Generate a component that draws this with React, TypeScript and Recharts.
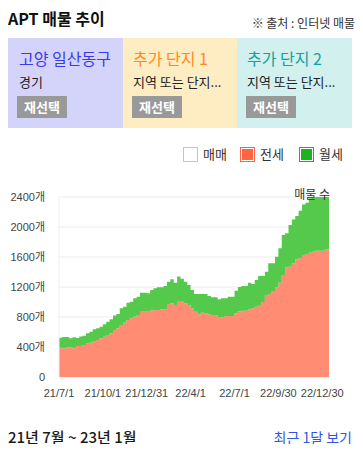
import React from "react";
import { AreaChart, Area, XAxis, YAxis, CartesianGrid } from "recharts";

const FONT = '"Noto Sans CJK KR", "Noto Sans", sans-serif';
const TICK_FONT = '"Liberation Sans", "Noto Sans CJK KR", sans-serif';

const weeks: number[] = Array.from({ length: 81 }, (_, i) => i);

const jeonse: number[] = [
  391, 380, 396, 396, 385, 413, 413, 427, 449, 458,
  480, 495, 516, 538, 560, 582, 627, 649, 693, 724,
  760, 782, 804, 827, 871, 880, 871, 888, 893, 893,
  902, 902, 973, 982, 960, 1004, 1004, 982, 960, 916,
  871, 836, 858, 849, 836, 827, 827, 791, 796, 813,
  813, 813, 849, 875, 884, 884, 902, 916, 938, 960,
  1000, 1093, 1107, 1138, 1196, 1258, 1360, 1462, 1471, 1516,
  1569, 1582, 1627, 1640, 1658, 1671, 1684, 1684, 1684, 1702,
  1729,
];

const wolse: number[] = [
  133, 153, 137, 120, 145, 107, 127, 124, 133, 146,
  156, 155, 155, 164, 178, 187, 193, 191, 223, 214,
  231, 222, 245, 244, 253, 244, 245, 272, 289, 303,
  294, 311, 298, 320, 298, 336, 306, 289, 267, 244,
  236, 271, 249, 258, 244, 235, 235, 245, 253, 236,
  258, 258, 302, 325, 329, 329, 356, 324, 355, 387,
  347, 311, 409, 378, 408, 458, 533, 454, 556, 584,
  578, 636, 673, 684, 724, 724, 716, 716, 716, 698,
  671,
];

const tickWeeks: number[] = [0, 13, 26, 39, 52, 65, 78];
const tickLabels: string[] = ["21/7/1", "21/10/1", "21/12/31", "22/4/1", "22/7/1", "22/9/30", "22/12/30"];
const yTicks: number[] = [0, 400, 800, 1200, 1600, 2000, 2400];

const data = weeks.map((w, i) => ({ week: w, 전세: jeonse[i], 월세: wolse[i] }));

const boxes = [
  { title: "고양 일산동구", sub: "경기", bg: "#D4D4FA", color: "#3A3AEA", left: 0, width: 115, pad: 11 },
  { title: "추가 단지 1", sub: "지역 또는 단지...", bg: "#FEEDC3", color: "#FF8A1E", left: 115, width: 114, pad: 10 },
  { title: "추가 단지 2", sub: "지역 또는 단지...", bg: "#D1F0EE", color: "#14A0A0", left: 229, width: 115, pad: 10 },
];

const legendItems = [
  { name: "매매", fill: "#FFFFFF", border: "#C2C6CE", left: 175 },
  { name: "전세", fill: "#FF6543", border: "#FF6543", left: 232 },
  { name: "월세", fill: "#1DB31D", border: "#1DB31D", left: 291 },
];

export default function App() {
  return (
    <div style={{ position: "relative", width: 347, height: 436, fontFamily: FONT, color: "#222" }}>
      <div style={{ position: "absolute", left: 0, top: 0, fontSize: 16, lineHeight: "20px", fontWeight: 700, color: "#111" }}>
        APT 매물 추이
      </div>
      <div style={{ position: "absolute", right: 0, top: 6, fontSize: 12, lineHeight: "17px", color: "#333", whiteSpace: "nowrap" }}>
        ※ 출처 : 인터넷 매물
      </div>

      {boxes.map((b) => (
        <div key={b.title} style={{ position: "absolute", left: b.left, top: 30, width: b.width, height: 90, background: b.bg }}>
          <div style={{ position: "absolute", left: b.pad, top: 10, fontSize: 16, lineHeight: "20px", color: b.color, whiteSpace: "nowrap" }}>
            {b.title}
          </div>
          <div style={{ position: "absolute", left: b.pad, top: 35, fontSize: 13, lineHeight: "18px", color: "#222", whiteSpace: "nowrap" }}>
            {b.sub}
          </div>
          <div style={{ position: "absolute", left: 9, top: 58, width: 50, height: 22, background: "#999", color: "#fff", fontSize: 13, fontWeight: 700, lineHeight: "22px", textAlign: "center" }}>
            재선택
          </div>
        </div>
      ))}

      {legendItems.map((l) => (
        <div key={l.name} style={{ position: "absolute", left: l.left, top: 139, height: 15 }}>
          <div style={{ position: "absolute", left: 0, top: 0, width: 11, height: 11, border: `1px solid ${l.border}`, padding: 1, background: l.fill, backgroundClip: "content-box", boxShadow: "inset 0 0 0 1px #fff" }} />
          <div style={{ position: "absolute", left: 20, top: -2, fontSize: 13, lineHeight: "18px", color: "#333", whiteSpace: "nowrap" }}>{l.name}</div>
        </div>
      ))}

      <div style={{ position: "absolute", left: -8, top: 172 }}>
        <AreaChart width={363} height={230} data={data} margin={{ top: 17, right: 34, left: 0, bottom: 3 }}>
          <CartesianGrid vertical={false} stroke="#ECECEC" />
          <XAxis
            dataKey="week"
            type="number"
            domain={[0, 80]}
            ticks={tickWeeks}
            tickFormatter={(v: number) => tickLabels[tickWeeks.indexOf(v)] ?? ""}
            axisLine={false}
            tickLine={false}
            tickSize={0}
            tickMargin={12}
            height={30}
            interval={0}
            tick={{ fontSize: 11, fill: "#444", fontFamily: TICK_FONT }}
          />
          <YAxis
            type="number"
            domain={[0, 2400]}
            ticks={yTicks}
            tickFormatter={(v: number) => (v === 0 ? "0" : `${v}개`)}
            axisLine={{ stroke: "#EEEEEE" }}
            tickLine={false}
            tickSize={0}
            tickMargin={14}
            width={59}
            interval={0}
            tick={{ fontSize: 11, fill: "#444", fontFamily: TICK_FONT }}
          />
          <Area type="stepAfter" dataKey="전세" stackId="1" stroke="none" fill="#FF8C73" fillOpacity={1} isAnimationActive={false} />
          <Area type="stepAfter" dataKey="월세" stackId="1" stroke="none" fill="#55C94C" fillOpacity={1} isAnimationActive={false} />
        </AreaChart>
      </div>

      <div style={{ position: "absolute", right: 25, top: 178, fontSize: 12, lineHeight: "16px", color: "#333", whiteSpace: "nowrap", zIndex: 2 }}>
        매물 수
      </div>

      <div style={{ position: "absolute", left: 0, top: 419, fontSize: 15, lineHeight: "20px", fontWeight: 500, color: "#1a1a1a", whiteSpace: "nowrap" }}>
        21년 7월 ~ 23년 1월
      </div>
      <div style={{ position: "absolute", right: 3, top: 420, fontSize: 14, lineHeight: "18px", color: "#2E55E6", whiteSpace: "nowrap" }}>
        최근 1달 보기
      </div>
    </div>
  );
}
